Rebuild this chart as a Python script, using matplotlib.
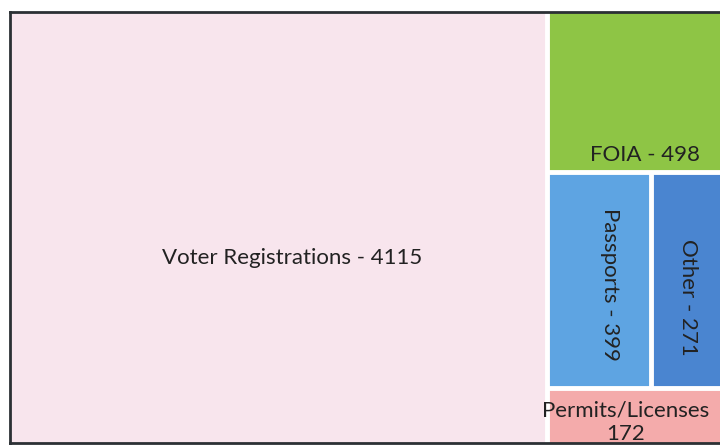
import matplotlib
matplotlib.use('Agg')
import matplotlib.pyplot as plt
from matplotlib.patches import Rectangle

# Treemap data
categories = ['Voter Registrations', 'FOIA', 'Passports', 'Other', 'Permits/Licenses']
counts = [4115, 498, 399, 271, 172]
colors = ['#f8e5ed', '#8ec545', '#5ea4e2', '#4a85d0', '#f4abab']

plt.rcParams['font.family'] = ['Lato', 'DejaVu Sans']

fig = plt.figure(figsize=(7.2, 4.45), dpi=100)
ax = fig.add_axes([10 / 720, 2 / 445, 712 / 720, 431 / 445])
ax.set_xlim(0, 1)
ax.set_ylim(0, 1)

total = sum(counts)
rest = sum(counts[1:])
x_split = counts[0] / total           # pink block width
h_permits = counts[4] / rest
h_row = (counts[2] + counts[3]) / rest
y_row_top = h_permits + h_row
x_pass = x_split + (1 - x_split) * counts[2] / (counts[2] + counts[3])

rects = {
    'Voter Registrations': (0, 0, x_split, 1),
    'FOIA': (x_split, y_row_top, 1 - x_split, 1 - y_row_top),
    'Passports': (x_split, h_permits, x_pass - x_split, h_row),
    'Other': (x_pass, h_permits, 1 - x_pass, h_row),
    'Permits/Licenses': (x_split, 0, 1 - x_split, h_permits),
}
for cat, col in zip(categories, colors):
    x, y, w, h = rects[cat]
    ax.add_patch(Rectangle((x, y), w, h, facecolor=col, edgecolor='none', zorder=1))

# white separators between blocks
sep = dict(color='white', lw=3.5, zorder=2, solid_capstyle='butt')
ax.plot([x_split, x_split], [0, 1], **sep)
ax.plot([x_split, 1], [y_row_top, y_row_top], **sep)
ax.plot([x_split, 1], [h_permits, h_permits], **sep)
ax.plot([x_pass, x_pass], [h_permits, y_row_top], **sep)

fs = 16
tc = '#222222'
ax.text(x_split * 0.525, 0.43, f'{categories[0]} - {counts[0]}', ha='center', va='center',
        fontsize=fs, color=tc, zorder=3)
ax.text(x_split + (1 - x_split) * 0.56, y_row_top + 0.04, f'{categories[1]} - {counts[1]}',
        ha='center', va='center', fontsize=fs, color=tc, zorder=3)
ax.text((x_split + x_pass) / 2 + 0.015, h_permits + h_row * 0.48, f'{categories[2]} - {counts[2]}',
        ha='center', va='center', rotation=270, fontsize=fs, color=tc, zorder=3)
ax.text((x_pass + 1) / 2 + 0.002, h_permits + h_row * 0.42, f'{categories[3]} - {counts[3]}',
        ha='center', va='center', rotation=270, fontsize=fs, color=tc, zorder=3)
ax.text(x_split + (1 - x_split) * 0.45, h_permits * 0.38, f'{categories[4]}\n{counts[4]}',
        ha='center', va='center', fontsize=fs, color=tc, linespacing=1.2, zorder=3)

ax.set_xticks([])
ax.set_yticks([])
for side in ['top', 'left', 'bottom']:
    ax.spines[side].set_color('#2b3034')
    ax.spines[side].set_linewidth(2)
    ax.spines[side].set_zorder(4)
ax.spines['right'].set_visible(False)

fig.savefig('out.png', dpi=100)
